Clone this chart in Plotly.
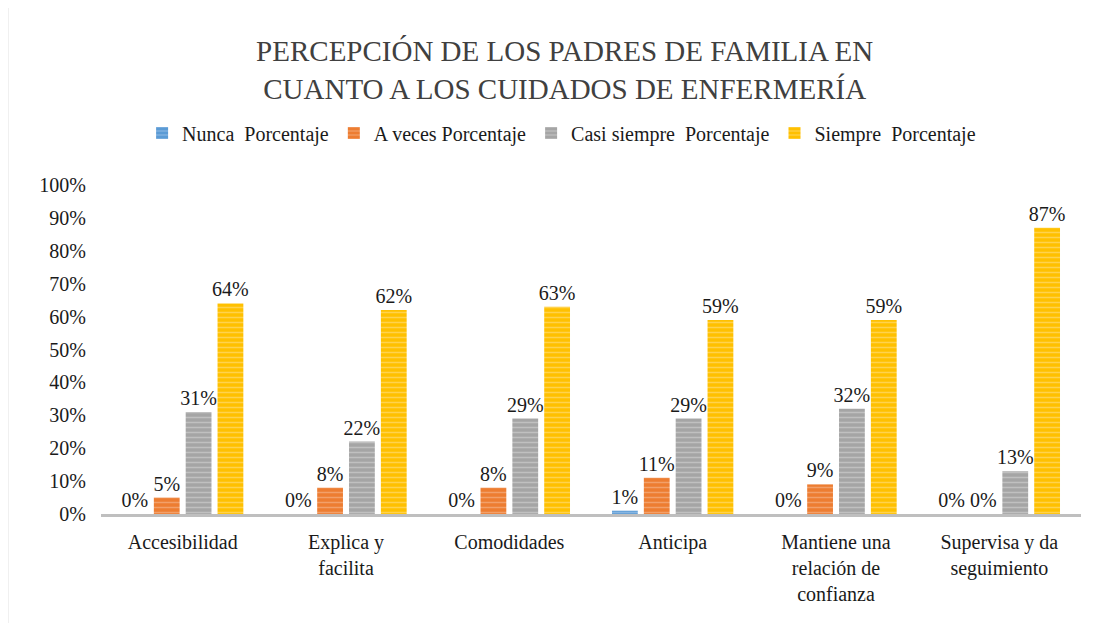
import plotly.graph_objects as go

categories = ["Accesibilidad", "Explica y<br>facilita", "Comodidades", "Anticipa",
              "Mantiene una<br>relación de<br>confianza", "Supervisa y da<br>seguimiento"]
nunca = [0.00, 0.00, 0.00, 0.01, 0.00, 0.00]
a_veces = [0.05, 0.08, 0.08, 0.11, 0.09, 0.00]
casi_siempre = [0.31, 0.22, 0.29, 0.29, 0.32, 0.13]
siempre = [0.64, 0.62, 0.63, 0.59, 0.59, 0.87]

series_names = ["Nunca  Porcentaje", "A veces Porcentaje", "Casi siempre  Porcentaje", "Siempre  Porcentaje"]
series_values = [nunca, a_veces, casi_siempre, siempre]
colors = ["#5b9bd5", "#ed7d31", "#a5a5a5", "#ffc000"]
stripe = ["#b4d0ee", "#f8c3a2", "#dcdcdc", "#ffe49a"]

FONT = "Liberation Serif"

fig = go.Figure()
for name, vals, c, s in zip(series_names, series_values, colors, stripe):
    fig.add_trace(go.Bar(
        x=categories, y=vals, name=name,
        marker=dict(color=c, line=dict(width=0),
                    pattern=dict(shape="-", fgcolor=s, bgcolor=c, size=5, solidity=0.3, fillmode="overlay")),
        texttemplate="%{y:.0%}", textposition="outside", constraintext="none",
        textfont=dict(family=FONT, size=20, color="#1a1a1a"),
        cliponaxis=False,
    ))

fig.update_layout(
    width=1098, height=615,
    paper_bgcolor="white", plot_bgcolor="white",
    barmode="group", bargap=0.22, bargroupgap=0.19,
    margin=dict(l=93, r=25, t=177, b=109, autoexpand=False),
    title=dict(text="PERCEPCIÓN DE LOS PADRES DE FAMILIA EN<br>CUANTO A LOS CUIDADOS DE ENFERMERÍA",
               x=0.507, xanchor="center", y=0.914, yanchor="middle", yref="container",
               font=dict(family=FONT, size=29, color="#404040")),
    legend=dict(orientation="h", x=0.47, xanchor="center",
                y=1.158, yanchor="middle",
                font=dict(family=FONT, size=20, color="#1a1a1a"),
                traceorder="normal", itemwidth=30),
    xaxis=dict(showline=True, linecolor="#bfbfbf", linewidth=3, ticks="", tickangle=0,
               automargin=False, ticklabelstandoff=8,
               tickfont=dict(family=FONT, size=20, color="#1a1a1a")),
    yaxis=dict(range=[0, 1.0], dtick=0.1, tickformat=".0%", showgrid=False,
               zeroline=False, showline=False, ticks="", automargin=False,
               ticklabelstandoff=14,
               tickfont=dict(family=FONT, size=20, color="#1a1a1a")),
    font=dict(family=FONT),
    shapes=[dict(type="line", xref="paper", yref="paper",
                 x0=-0.095, x1=-0.095, y0=-0.34, y1=1.57,
                 line=dict(color="#d9d9d9", width=1))],
)

fig.write_html("out.html")
